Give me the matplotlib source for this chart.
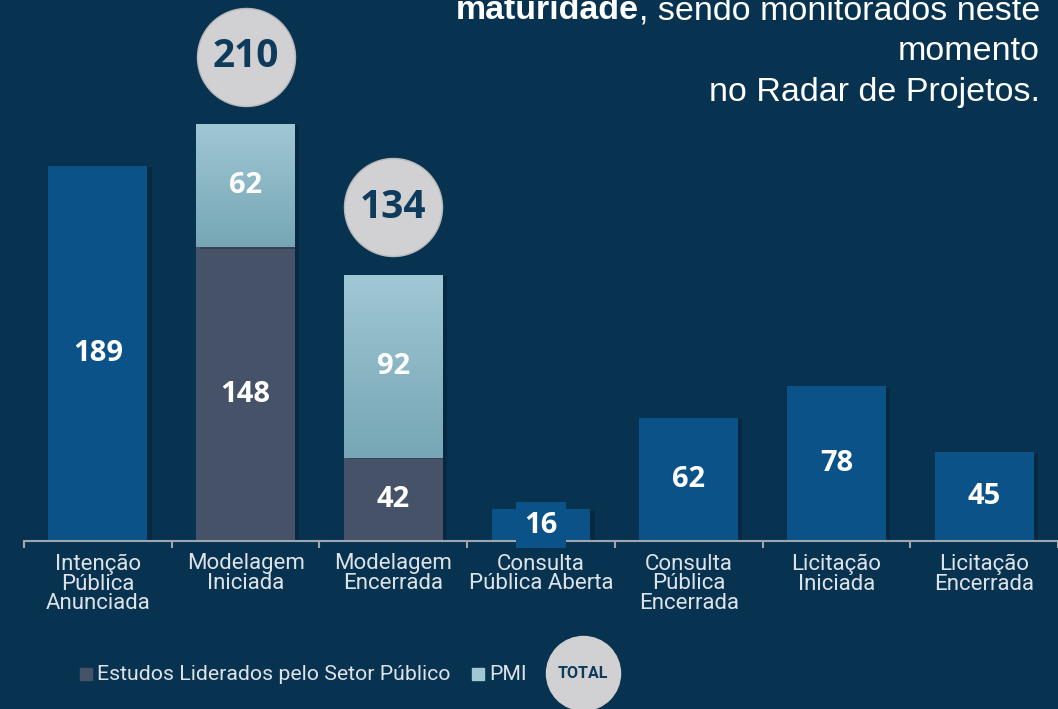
import numpy as np
import matplotlib.pyplot as plt
from matplotlib import patheffects as pe
from matplotlib.patches import Rectangle
from matplotlib.colors import LinearSegmentedColormap

# dados
categories = ['Intenção\nPública\nAnunciada', 'Modelagem\nIniciada', 'Modelagem\nEncerrada',
              'Consulta\nPública Aberta', 'Consulta\nPública\nEncerrada',
              'Licitação\nIniciada', 'Licitação\nEncerrada']
geral = [189, 0, 0, 16, 62, 78, 45]
setor_publico = [0, 148, 42, 0, 0, 0, 0]
pmi = [0, 62, 92, 0, 0, 0, 0]
totals = [s + p for s, p in zip(setor_publico, pmi)]

# cores
bg = '#083350'
blue = '#0a5288'
gray = '#465268'
pmi_top = '#a0c7d4'
pmi_bottom = '#76a6b5'
circle_c = '#d1d0d2'
circle_txt = '#0e3a5c'
axis_c = '#9ea7b0'
label_c = '#dde2e7'

W, H = 1058, 709
fig = plt.figure(figsize=(W / 100, H / 100), dpi=100, facecolor=bg)
ax = fig.add_axes([24 / W, 1 - 541 / H, 1034 / W, 541 / H])
ax.set_facecolor('none')

x = np.arange(len(categories))
width = 0.67
shadow = [pe.SimplePatchShadow(offset=(3, -1), shadow_rgbFace='black', alpha=0.2), pe.Normal()]

b_geral = ax.bar(x, geral, width=width, color=blue, zorder=2)
b_setor = ax.bar(x, setor_publico, width=width, color=gray, zorder=2)
b_pmi = ax.bar(x, pmi, width=width, bottom=setor_publico, color=pmi_bottom, zorder=2)
for cont in (b_geral, b_setor, b_pmi):
    for bar in cont:
        bar.set_path_effects(shadow)

# gradiente nas barras PMI
cmap = LinearSegmentedColormap.from_list('pmi', [pmi_bottom, pmi_top])
grad = np.linspace(0, 1, 256).reshape(-1, 1)
for bar in b_pmi:
    if bar.get_height() > 0:
        x0, y0 = bar.get_x(), bar.get_y()
        im = ax.imshow(grad, extent=(x0, x0 + bar.get_width(), y0, y0 + bar.get_height()),
                       aspect='auto', origin='lower', cmap=cmap, zorder=2.5)
        im.set_clip_path(bar)

lbl_kw = dict(label_type='center', color='white', fontsize=21, fontweight='bold', fontfamily='Open Sans')
g_labels = ax.bar_label(b_geral, labels=[str(v) if v else '' for v in geral], **lbl_kw)
ax.bar_label(b_setor, labels=[str(v) if v else '' for v in setor_publico], **lbl_kw)
p_labels = ax.bar_label(b_pmi, labels=[str(v) if v else '' for v in pmi], **lbl_kw)
for t in p_labels:
    t.set_zorder(4)
g_labels[3].set_bbox(dict(boxstyle='square,pad=0.28', fc=blue, ec='none'))
g_labels[3].set_zorder(4)

# circulos de total
for i, (t, p) in enumerate(zip(totals, pmi)):
    if p > 0:
        ax.scatter(i, t + 34, s=4980, color=circle_c, edgecolor='#b9b8bb', linewidth=1,
                   clip_on=False, zorder=5)
        ax.text(i, t + 34, str(t), ha='center', va='center', fontsize=28, fontweight='bold',
                fontfamily='Open Sans', color=circle_txt, zorder=6)

ax.set_xlim(-0.5, 6.5)
ax.set_ylim(0, 272.5)
for s in ['top', 'right', 'left']:
    ax.spines[s].set_visible(False)
ax.spines['bottom'].set_color(axis_c)
ax.spines['bottom'].set_linewidth(1.5)
ax.spines['bottom'].set_zorder(3)
ax.set_yticks([])
ax.set_xticks(x, categories)
ax.set_xticks(np.arange(-0.5, 7, 1), minor=True)
ax.tick_params(axis='x', which='major', length=0, pad=9, labelcolor=label_c, labelsize=16)
ax.tick_params(axis='x', which='minor', length=5, width=1.5, color=axis_c, direction='out')
for lbl in ax.get_xticklabels():
    lbl.set_fontfamily('Roboto')
    lbl.set_linespacing(0.93)

# camada de texto e legenda em pixels
ov = fig.add_axes([0, 0, 1, 1])
ov.set_xlim(0, W)
ov.set_ylim(H, 0)
ov.axis('off')
ov.patch.set_alpha(0)

title_kw = dict(fontsize=24.5, color='white', fontfamily='Liberation Sans')
t1 = ov.text(1040, 19, ', sendo monitorados neste', ha='right', va='baseline', **title_kw)
ov.annotate('maturidade', xy=(0, 0), xycoords=t1, ha='right', va='bottom', fontweight='bold', **title_kw)
ov.text(1040, 60, 'momento', ha='right', va='baseline', **title_kw)
ov.text(1040, 101, 'no Radar de Projetos.', ha='right', va='baseline', **title_kw)

leg_kw = dict(va='center', fontsize=15.3, fontfamily='Roboto', color=label_c)
ov.add_patch(Rectangle((80, 668), 12, 12, color=gray))
ov.text(97, 674, 'Estudos Liderados pelo Setor Público', **leg_kw)
ov.add_patch(Rectangle((472, 668), 12, 12, color=pmi_top))
ov.text(489, 674, 'PMI', **leg_kw)
ov.scatter(583, 673, s=2840, color=circle_c, clip_on=False)
ov.text(583, 674, 'TOTAL', ha='center', va='center', fontsize=11.5, fontweight='bold',
        fontfamily='Roboto', color=circle_txt)

fig.savefig('out.png', dpi=100, facecolor=bg)
